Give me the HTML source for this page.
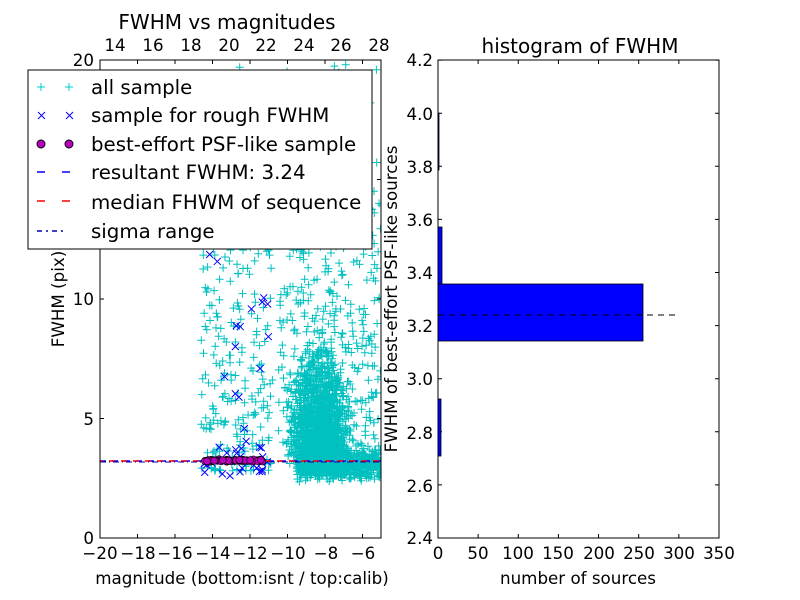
<!DOCTYPE html>
<html><head><meta charset="utf-8"><style>
body{margin:0;background:#fff}
svg{display:block;font-family:"DejaVu Sans","Liberation Sans",sans-serif}
</style></head><body>
<svg id="s" width="800" height="600" viewBox="0 0 800 600" xmlns="http://www.w3.org/2000/svg">
<defs><clipPath id="cp"><rect x="100" y="60" width="281" height="478"/></clipPath></defs>
<rect width="800" height="600" fill="#fff"/>
<g id="pts" clip-path="url(#cp)"></g>
<line x1="100" y1="461" x2="381" y2="461" stroke="#00f" stroke-width="1.5" stroke-dasharray="6,6"/>
<line x1="100" y1="461" x2="381" y2="461" stroke="#f00" stroke-width="1.5" stroke-dasharray="6,6" stroke-dashoffset="3"/>
<line x1="100" y1="462" x2="381" y2="462" stroke="#00a" stroke-width="1" stroke-dasharray="6,3,1,3"/>
<g id="circ"></g>
<rect x="100" y="60" width="281" height="478" fill="none" stroke="#000" stroke-width="1"/>
<g id="ticks" stroke="#000" stroke-width="1"></g>
<g font-size="16.7" fill="#000" text-anchor="middle">
<text x="100" y="559">−20</text><text x="138" y="559">−18</text><text x="175" y="559">−16</text><text x="213" y="559">−14</text><text x="250" y="559">−12</text><text x="288" y="559">−10</text><text x="326" y="559">−8</text><text x="363" y="559">−6</text>
<text x="115" y="51">14</text><text x="153" y="51">16</text><text x="191" y="51">18</text><text x="229" y="51">20</text><text x="266" y="51">22</text><text x="304" y="51">24</text><text x="341" y="51">26</text><text x="379" y="51">28</text>
<text x="227" y="29" font-size="20">FWHM vs magnitudes</text>
<text x="242" y="584" font-size="16.7">magnitude (bottom:isnt / top:calib)</text>
<text x="578" y="584" font-size="16.7">number of sources</text>
<text x="580" y="53" font-size="20">histogram of FWHM</text>
<text x="438" y="559">0</text><text x="478" y="559">50</text><text x="518" y="559">100</text><text x="558" y="559">150</text><text x="599" y="559">200</text><text x="639" y="559">250</text><text x="679" y="559">300</text><text x="719" y="559">350</text>
</g>
<g font-size="16.7" text-anchor="end">
<text x="94" y="544">0</text><text x="94" y="425">5</text><text x="94" y="305">10</text><text x="94" y="66">20</text>
<text x="433" y="544">2.4</text><text x="433" y="492">2.6</text><text x="433" y="439">2.8</text><text x="433" y="385">3.0</text><text x="433" y="332">3.2</text><text x="433" y="279">3.4</text><text x="433" y="226">3.6</text><text x="433" y="173">3.8</text><text x="433" y="120">4.0</text><text x="433" y="66">4.2</text>
</g>
<text transform="translate(64,299) rotate(-90)" font-size="16.7" text-anchor="middle">FWHM (pix)</text>
<text transform="translate(397,299) rotate(-90)" font-size="16.7" text-anchor="middle">FWHM of best-effort PSF-like sources</text>
<g fill="#00f" stroke="#000" stroke-width="0.8">
<rect x="438" y="284" width="205" height="57"/>
<rect x="438" y="227" width="4" height="57"/>
<rect x="438" y="399" width="3" height="57"/>
<rect x="438" y="113" width="1" height="57"/>
</g>
<line x1="438" y1="315" x2="680" y2="315" stroke="#000" stroke-dasharray="6,5"/>
<line x1="438" y1="456" x2="438" y2="513" stroke="#000"/>
<rect x="438" y="60" width="281" height="478" fill="none" stroke="#000"/>
<rect x="28" y="70" width="344" height="179" fill="#fff" stroke="#000"/>
<g font-size="19.8">
<text x="91" y="94">all sample</text>
<text x="91" y="122">sample for rough FWHM</text>
<text x="91" y="151">best-effort PSF-like sample</text>
<text x="91" y="179">resultant FWHM: 3.24</text>
<text x="91" y="209">median FHWM of sequence</text>
<text x="91" y="238">sigma range</text>
</g>
<g stroke-width="1">
<path d="M37 87h8M41 83v8M65 87h8M69 83v8" stroke="#0cc"/>
<path d="M38 112l7 7M45 112l-7 7M66 112l7 7M73 112l-7 7" stroke="#00f"/>
<circle cx="41" cy="144" r="4" fill="#b0b" stroke="#000"/><circle cx="69" cy="144" r="4" fill="#b0b" stroke="#000"/>
<path d="M37 172h8M62 172h8" stroke="#00f" stroke-width="1.5"/>
<path d="M37 201h8M62 201h8" stroke="#f00" stroke-width="1.5"/>
<path d="M37 231h5M46 231h2M52 231h5M61 231h2" stroke="#00a" stroke-width="1.5"/>
</g>
</svg>
<script>
(function(){
var ns="http://www.w3.org/2000/svg",g=document.getElementById("pts"),c=document.getElementById("circ"),t=document.getElementById("ticks");
var seed=7;function r(){seed=(seed*16807)%2147483647;return seed/2147483647;}
function n(){return (r()+r()+r()+r()-2)*0.87;}
function X(m){return 100+(m+20)*18.75;}function Y(f){return 538-f*23.9;}
var d1="",d2="";
function plus(x,y){d1+="M"+(x-4).toFixed(1)+" "+y.toFixed(1)+"h8M"+x.toFixed(1)+" "+(y-4).toFixed(1)+"v8";}
var i,m,f;
for(i=0;i<1300;i++){m=-8.3+n()*1.4;f=3.4+Math.abs(n())*3.8;plus(X(m),Y(f));}
for(i=0;i<700;i++){m=-9.5+r()*4.5;f=3.1+n()*0.6;plus(X(m),Y(f));}
for(i=0;i<350;i++){m=-10.5+r()*5.5;f=3+r()*11;plus(X(m),Y(f));}
for(i=0;i<260;i++){m=-14.6+r()*3.8;f=2.8+Math.pow(r(),1.5)*12;plus(X(m),Y(f));}
for(i=0;i<80;i++){m=-14.5+r()*9.5;f=12+r()*8.5;plus(X(m),Y(f));}
var p=document.createElementNS(ns,"path");p.setAttribute("d",d1);p.setAttribute("stroke","#00c0c0");p.setAttribute("stroke-width","1");p.setAttribute("fill","none");g.appendChild(p);
for(i=0;i<40;i++){m=-14.5+r()*3.5;f=i<22?2.6+r()*1.2:3.5+r()*8.5;var x=X(m),y=Y(f);d2+="M"+(x-3.5)+" "+(y-3.5)+"l7 7M"+(x+3.5)+" "+(y-3.5)+"l-7 7";}
p=document.createElementNS(ns,"path");p.setAttribute("d",d2);p.setAttribute("stroke","#00f");p.setAttribute("fill","none");g.appendChild(p);
for(i=0;i<80;i++){m=-14.4+r()*3.1;f=3.24+n()*0.04;var e=document.createElementNS(ns,"circle");e.setAttribute("cx",X(m));e.setAttribute("cy",Y(f));e.setAttribute("r",3.5);e.setAttribute("fill","#b0b");e.setAttribute("stroke","#000");e.setAttribute("stroke-width","0.6");c.appendChild(e);}
var tk="";
[-20,-18,-16,-14,-12,-10,-8,-6].forEach(function(v){var x=X(v);tk+="M"+x+" 538v-4M"+x+" 60v4";});
[0,5,10,15,20].forEach(function(v){var y=Y(v);tk+="M100 "+y+"h4M381 "+y+"h-4";});
for(i=0;i<=7;i++){var x=438+i*40.14;tk+="M"+x+" 538v-4M"+x+" 60v4";}
for(i=0;i<=9;i++){var y=538-i*53.1;tk+="M438 "+y+"h4M719 "+y+"h-4";}
var tp=document.createElementNS(ns,"path");tp.setAttribute("d",tk);t.appendChild(tp);
})();
</script>
</body></html>
